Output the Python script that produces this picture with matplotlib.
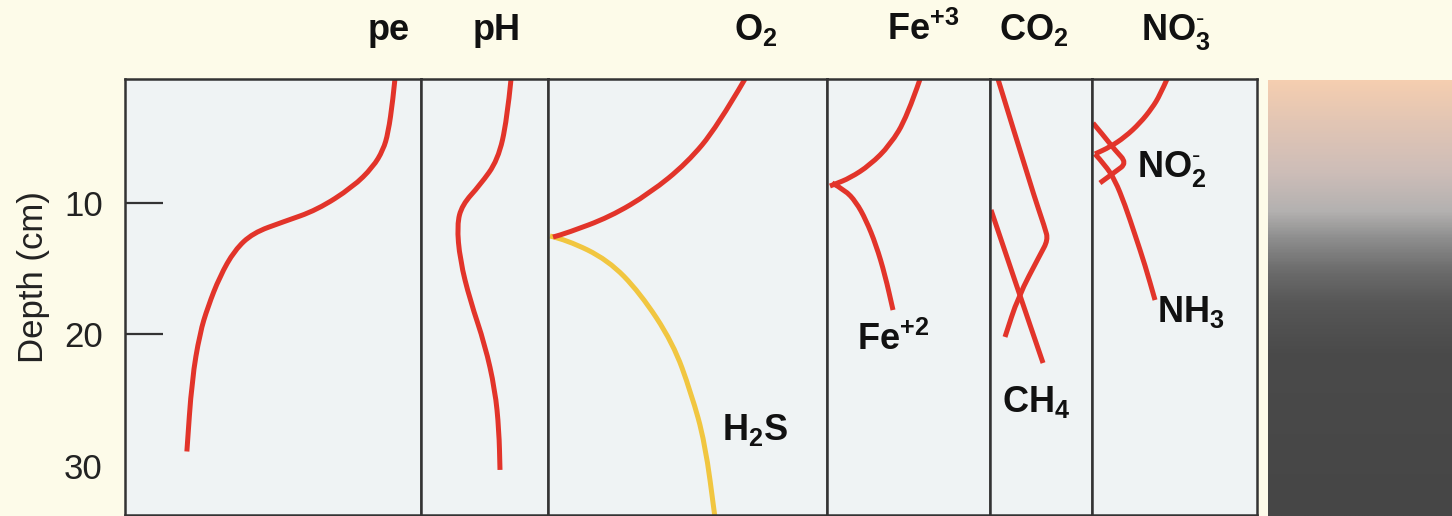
import numpy as np
import matplotlib
matplotlib.use('Agg')
import matplotlib.pyplot as plt
from matplotlib.colors import LinearSegmentedColormap
from matplotlib.path import Path
from matplotlib.patches import PathPatch

plt.rcParams['font.family'] = ['Liberation Sans', 'DejaVu Sans']
plt.rcParams['mathtext.fontset'] = 'custom'
plt.rcParams['mathtext.rm'] = 'Liberation Sans'
plt.rcParams['mathtext.bf'] = 'Liberation Sans:bold'

# sediment depth profiles, x = relative level inside each column (0..1), depth in cm
pe_x = [0.912, 0.905, 0.889, 0.872, 0.838, 0.770, 0.649, 0.534, 0.432, 0.370, 0.320, 0.280, 0.253, 0.226, 0.209]
pe_depth = [0.57, 2.17, 4.68, 5.97, 7.26, 8.78, 10.53, 11.44, 12.28, 13.60, 15.60, 17.90, 19.89, 23.46, 28.9]

ph_x = [0.709, 0.677, 0.606, 0.465, 0.323, 0.283, 0.307, 0.386, 0.504, 0.583, 0.614, 0.622]
ph_depth = [0.57, 3.69, 6.73, 8.63, 10.15, 11.67, 14.33, 17.38, 20.80, 24.22, 27.26, 30.30]

o2_x = [0.706, 0.606, 0.498, 0.366, 0.222, 0.068, 0.018]
o2_depth = [0.57, 4.22, 6.96, 9.24, 11.06, 12.28, 12.59]

h2s_x = [0.007, 0.068, 0.215, 0.330, 0.448, 0.513, 0.563, 0.599]
h2s_depth = [12.51, 12.81, 14.33, 16.84, 20.65, 24.45, 28.25, 34.0]

fe3_x = [0.571, 0.491, 0.387, 0.264, 0.141, 0.049, 0.018]
fe3_depth = [0.57, 3.46, 5.59, 7.11, 8.10, 8.56, 8.71]

fe2_x = [0.031, 0.110, 0.178, 0.239, 0.301, 0.356, 0.405]
fe2_depth = [8.48, 9.01, 9.92, 11.29, 13.19, 15.48, 18.14]

co2_x = [0.078, 0.412, 0.539, 0.569, 0.490, 0.275, 0.147]
co2_depth = [0.57, 9.01, 11.90, 12.81, 13.95, 17.15, 20.19]

ch4_x = [0.010, 0.275, 0.520]
ch4_depth = [10.53, 16.62, 22.17]

no3_x = [0.455, 0.412, 0.364, 0.291, 0.200, 0.109, 0.018]
no3_depth = [0.57, 1.79, 2.78, 3.92, 4.98, 5.74, 6.27]

no2_x = [0.006, 0.067, 0.139, 0.212, 0.139, 0.048]
no2_depth = [3.92, 4.83, 5.97, 6.96, 7.64, 8.48]

nh3_x = [0.018, 0.079, 0.139, 0.200, 0.261, 0.321, 0.382]
nh3_depth = [6.27, 7.11, 8.25, 10.15, 12.43, 14.71, 17.38]

headers = ['pe', 'pH', r'$\mathbf{O_2}$', r'$\mathbf{Fe^{+3}}$', r'$\mathbf{CO_2}$', r'$\mathbf{NO_3^{\text{-}}}$']
depth_ticks = [10, 20, 30]

red = '#e2342a'
yellow = '#f1c640'
frame = '#333333'
lw = 3.6


def smooth_line(ax, xs, ys, color):
    # quadratic bezier through the midpoints so the profile has no hard corners
    pts = np.column_stack([xs, ys])
    verts = [pts[0]]
    codes = [Path.MOVETO]
    for i in range(1, len(pts) - 1):
        verts += [pts[i], (pts[i] + pts[i + 1]) / 2]
        codes += [Path.CURVE3, Path.CURVE3]
    verts.append(pts[-1])
    codes.append(Path.LINETO)
    ax.add_patch(PathPatch(Path(verts, codes), fill=False, edgecolor=color, lw=lw,
                           capstyle='butt', joinstyle='round'))


W, H = 1452, 516
fig = plt.figure(figsize=(W / 100, H / 100), dpi=100)
fig.patch.set_facecolor('#fdfbe9')

gs = fig.add_gridspec(1, 6, left=125 / W, right=1257 / W, bottom=1 / H, top=(H - 79) / H,
                      wspace=0, width_ratios=[296, 127, 279, 163, 102, 165])
axes = [fig.add_subplot(gs[0, i]) for i in range(6)]

for ax in axes:
    ax.set_facecolor('#eff3f4')
    ax.set_xlim(0, 1)
    ax.set_ylim(33.73, 0.57)
    ax.set_xticks([])
    for s in ax.spines.values():
        s.set_color(frame)
        s.set_linewidth(1.8)
    if ax is not axes[0]:
        ax.set_yticks([])

smooth_line(axes[0], pe_x, pe_depth, red)
smooth_line(axes[1], ph_x, ph_depth, red)
smooth_line(axes[2], h2s_x, h2s_depth, yellow)
smooth_line(axes[2], o2_x, o2_depth, red)
smooth_line(axes[3], fe3_x, fe3_depth, red)
smooth_line(axes[3], fe2_x, fe2_depth, red)
smooth_line(axes[4], co2_x, co2_depth, red)
smooth_line(axes[4], ch4_x, ch4_depth, red)
smooth_line(axes[5], no3_x, no3_depth, red)
smooth_line(axes[5], no2_x, no2_depth, red)
smooth_line(axes[5], nh3_x, nh3_depth, red)

# depth axis
ax0 = axes[0]
ax0.set_yticks(depth_ticks)
ax0.set_yticklabels([str(t) for t in depth_ticks])
ax0.tick_params(axis='y', direction='in', length=27, width=1.6, color=frame,
                labelsize=25, pad=16, labelcolor='#222222')
ax0.yaxis.get_major_ticks()[2].tick1line.set_visible(False)
ax0.set_ylabel('Depth (cm)', fontsize=25, color='#222222')
ax0.yaxis.set_label_coords(-0.255, 0.545)

# column headers
header_x = [389, 497, 756, 923, 1034, 1176]
for x, t in zip(header_x, headers):
    fig.text(x / W, (H - 40) / H, t, ha='center', va='baseline',
             fontsize=26, fontweight='bold', color='#111111')

# species labels inside the columns
lab = dict(fontsize=26, fontweight='bold', color='#111111', va='baseline', ha='left')
axes[2].text(0.624, 28.02, r'$\mathbf{H_2S}$', **lab)
axes[3].text(0.184, 21.18, r'$\mathbf{Fe^{+2}}$', **lab)
axes[4].text(0.118, 25.89, r'$\mathbf{CH_4}$', **lab)
axes[5].text(0.394, 19.05, r'$\mathbf{NH_3}$', **lab)
axes[5].text(0.273, 8.02, r'$\mathbf{NO_2^{\text{-}}}$', **lab)

# redox colour bar on the right
stops = [(0.0, '#f5ceb0'), (0.09, '#e3c6b4'), (0.21, '#cdbdb8'), (0.30, '#b3b1b0'),
         (0.36, '#8f8f8f'), (0.436, '#6c6c6c'), (0.51, '#575757'), (0.626, '#4a4a4a'),
         (1.0, '#464646')]
cmap = LinearSegmentedColormap.from_list('redox', stops)
axb = fig.add_axes([1268 / W, 0, (W - 1268) / W, (H - 80) / H])
axb.imshow(np.linspace(0, 1, 400).reshape(-1, 1), aspect='auto', cmap=cmap)
axb.axis('off')

fig.savefig('out.png', dpi=100, facecolor=fig.get_facecolor())
